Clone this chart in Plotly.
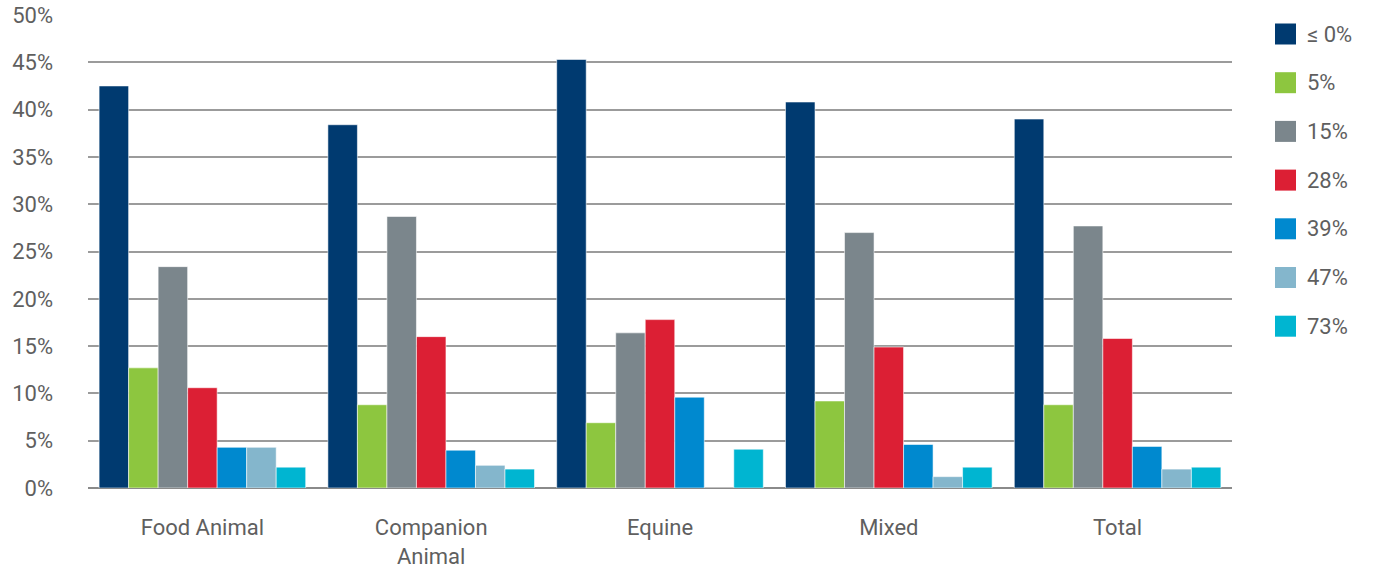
import plotly.graph_objects as go

# Practice type groups along the x axis
categories = ["Food Animal", "Companion<br>Animal", "Equine", "Mixed", "Total"]

# Expected change bands (legend labels)
bands = ["≤ 0%", "5%", "15%", "28%", "39%", "47%", "73%"]
band_colors = ["#003a70", "#8dc63f", "#7b868c", "#dc1f34", "#0089cf", "#84b6cc", "#00b5d1"]

# Share of respondents (%) per band, one list per band, ordered as categories
le_0 = [42.5, 38.4, 45.3, 40.8, 39.0]
pct_5 = [12.7, 8.8, 6.9, 9.2, 8.8]
pct_15 = [23.4, 28.7, 16.4, 27.0, 27.7]
pct_28 = [10.6, 16.0, 17.8, 14.9, 15.8]
pct_39 = [4.3, 4.0, 9.6, 4.6, 4.4]
pct_47 = [4.3, 2.4, 0.0, 1.2, 2.0]
pct_73 = [2.2, 2.0, 4.1, 2.2, 2.2]

series = [le_0, pct_5, pct_15, pct_28, pct_39, pct_47, pct_73]

y_ticks = [0, 5, 10, 15, 20, 25, 30, 35, 40, 45, 50]
y_tick_text = [f"{v}%" for v in y_ticks]

FONT = "Roboto"
FONT_SIZE = 22
TEXT_COLOR = "#5f5f5f"

# Plot area in pixels
W, H = 1377, 573
PLOT_L, PLOT_R, PLOT_T, PLOT_B = 88, 1232, 15, 488
plot_w = PLOT_R - PLOT_L
plot_h = PLOT_B - PLOT_T

fig = go.Figure()
for name, color, values in zip(bands, band_colors, series):
    fig.add_trace(go.Bar(
        x=categories, y=values, name=name,
        marker=dict(color=color, line=dict(color="rgba(255,255,255,0.55)", width=1)),
        showlegend=False,
    ))

# Legend drawn as square swatches with labels to the right of the plot
legend_x0 = 1275
legend_y0 = 34
legend_step = 48.7
swatch = 21
for i, (name, color) in enumerate(zip(bands, band_colors)):
    yc = legend_y0 + i * legend_step
    fig.add_shape(type="rect", xref="paper", yref="paper",
                  x0=(legend_x0 - PLOT_L) / plot_w, x1=(legend_x0 + swatch - PLOT_L) / plot_w,
                  y0=(PLOT_B - (yc + swatch / 2)) / plot_h, y1=(PLOT_B - (yc - swatch / 2)) / plot_h,
                  fillcolor=color, line=dict(width=0))
    fig.add_annotation(xref="paper", yref="paper",
                       x=(legend_x0 + swatch + 9 - PLOT_L) / plot_w, y=(PLOT_B - yc) / plot_h,
                       text=name, showarrow=False, xanchor="left", yanchor="middle",
                       font=dict(family=FONT, size=FONT_SIZE, color=TEXT_COLOR))

fig.update_layout(
    width=W, height=H,
    margin=dict(l=PLOT_L, r=W - PLOT_R, t=PLOT_T, b=H - PLOT_B, autoexpand=False),
    paper_bgcolor="white", plot_bgcolor="white",
    barmode="group", bargap=0.097, bargroupgap=0,
    font=dict(family=FONT, size=FONT_SIZE, color=TEXT_COLOR),
    xaxis=dict(
        showgrid=False, showline=False, zeroline=False, automargin=False,
        ticks="outside", ticklen=20, tickcolor="rgba(0,0,0,0)",
        tickfont=dict(family=FONT, size=FONT_SIZE, color=TEXT_COLOR),
    ),
    yaxis=dict(
        range=[0, 50], tickvals=y_ticks, ticktext=y_tick_text, automargin=False,
        showgrid=True, gridcolor="#9b9b9b", gridwidth=1.6,
        zeroline=True, zerolinecolor="#8a8a8a", zerolinewidth=2,
        showline=False, ticks="", ticklabelstandoff=34,
        tickfont=dict(family=FONT, size=FONT_SIZE, color=TEXT_COLOR),
    ),
)

fig.write_html("out.html")
